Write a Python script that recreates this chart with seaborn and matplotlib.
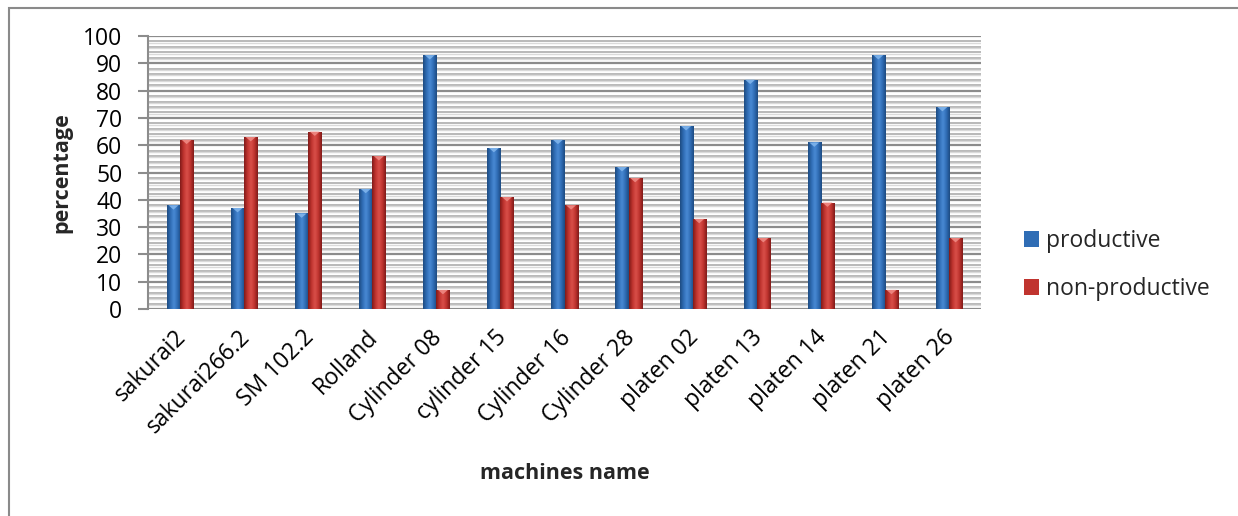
import numpy as np
import pandas as pd
import matplotlib
matplotlib.use("Agg")
import matplotlib.pyplot as plt
import matplotlib.transforms as mtransforms
from matplotlib.patches import Rectangle, Polygon
from matplotlib.colors import LinearSegmentedColormap
import seaborn as sns

machines = ["sakurai2", "sakurai266.2", "SM 102.2", "Rolland", "Cylinder 08",
            "cylinder 15", "Cylinder 16", "Cylinder 28", "platen 02", "platen 13",
            "platen 14", "platen 21", "platen 26"]
productive = [38, 37, 35, 44, 93, 59, 62, 52, 67, 84, 61, 93, 74]
non_productive = [62, 63, 65, 56, 7, 41, 38, 48, 33, 26, 39, 7, 26]
series_names = ["productive", "non-productive"]

df = pd.DataFrame({
    "machine": machines * 2,
    "value": productive + non_productive,
    "series": [series_names[0]] * len(machines) + [series_names[1]] * len(machines),
})

sns.set_theme(style="white")
plt.rcParams["font.family"] = ["Open Sans", "DejaVu Sans"]

base_colors = {"productive": "#2f6db5", "non-productive": "#c0342f"}
shades = {
    "productive": ["#1d4a80", "#2f6db5", "#4a8ad4", "#2f6db5", "#1d4a80"],
    "non-productive": ["#7f1a18", "#c0342f", "#d9504a", "#c0342f", "#7f1a18"],
}
caps = {"productive": "#7fb4ec", "non-productive": "#ef8a84"}

fig = plt.figure(figsize=(12.38, 5.16), dpi=100)
ax = fig.add_axes([148 / 1238, 1 - 309 / 516, (981 - 148) / 1238, (309 - 36) / 516])

sns.barplot(data=df, x="machine", y="value", hue="series", palette=base_colors,
            width=0.41, gap=0, ax=ax, saturation=1, legend=True, zorder=3)

ax.set_ylim(0, 100)
ax.set_xlim(-0.5, len(machines) - 0.5)

# gridlines: major every 10, minor every 2
for y in np.arange(0, 101, 2):
    if y % 10 == 0:
        ax.axhline(y, color="#8c8c8c", lw=1.6, zorder=1)
    else:
        ax.axhline(y, color="#b3b3b3", lw=1.3, zorder=1)
        ax.axhline(y - 0.45, color="#dadada", lw=1.0, zorder=1)

# cylinder-style shading on each bar
n = len(machines)
for i, patch in enumerate(ax.patches[: 2 * n]):
    key = series_names[i // n]
    cmap = LinearSegmentedColormap.from_list(key, shades[key])
    x0, y0 = patch.get_x(), patch.get_y()
    w, h = patch.get_width(), patch.get_height()
    grad = np.linspace(0, 1, 64).reshape(1, -1)
    im = ax.imshow(grad, cmap=cmap, aspect="auto", extent=[x0, x0 + w, y0, y0 + h],
                   zorder=4, interpolation="bicubic")
    im.set_clip_path(patch)
    cap = Polygon([[x0 + w * 0.12, y0 + h], [x0 + w * 0.88, y0 + h],
                   [x0 + w * 0.5, y0 + h - 1.6]], closed=True,
                  facecolor=caps[key], edgecolor="none", zorder=5, alpha=0.9)
    ax.add_patch(cap)
    patch.set_edgecolor("none")

ax.set_yticks(np.arange(0, 101, 10))
ax.tick_params(axis="y", which="major", length=7.5, width=1.5, color="#8c8c8c",
               labelsize=16.5, pad=11, left=True, labelcolor="black")
ax.tick_params(axis="x", length=0, labelsize=16.5, pad=12, labelcolor="black")
shift = mtransforms.ScaledTranslation(-6 / 100, 0, fig.dpi_scale_trans)
for lab in ax.get_xticklabels():
    lab.set_rotation(45)
    lab.set_ha("right")
    lab.set_va("top")
    lab.set_rotation_mode("anchor")
    lab.set_transform(lab.get_transform() + shift)

for side in ["top", "right", "bottom"]:
    ax.spines[side].set_visible(False)
ax.spines["left"].set_color("#8c8c8c")
ax.spines["left"].set_linewidth(1.5)

ax.set_ylabel("percentage", fontsize=15.5, fontweight="bold", labelpad=8)
ax.set_xlabel("machines name", fontsize=15.5, fontweight="bold", labelpad=17.5)

# legend with shaded square keys
handles, labels = ax.get_legend_handles_labels()
for h in handles:
    h.set_edgecolor("none")
leg = ax.legend(handles, labels, loc="center left",
                bbox_to_anchor=((1024 - 148) / 833, (309 - 265) / 273),
                frameon=False, fontsize=16.5, handlelength=0.65, handleheight=0.65,
                handletextpad=0.3, labelspacing=1.05, borderaxespad=0, borderpad=0)

# chart frame
fig.add_artist(Rectangle((8.5 / 1238, -0.1), 1.2, 1 - 7.5 / 516 + 0.1,
                         transform=fig.transFigure, fill=False,
                         edgecolor="#8a8a8a", lw=1.5))

fig.savefig("out.png", dpi=100)
